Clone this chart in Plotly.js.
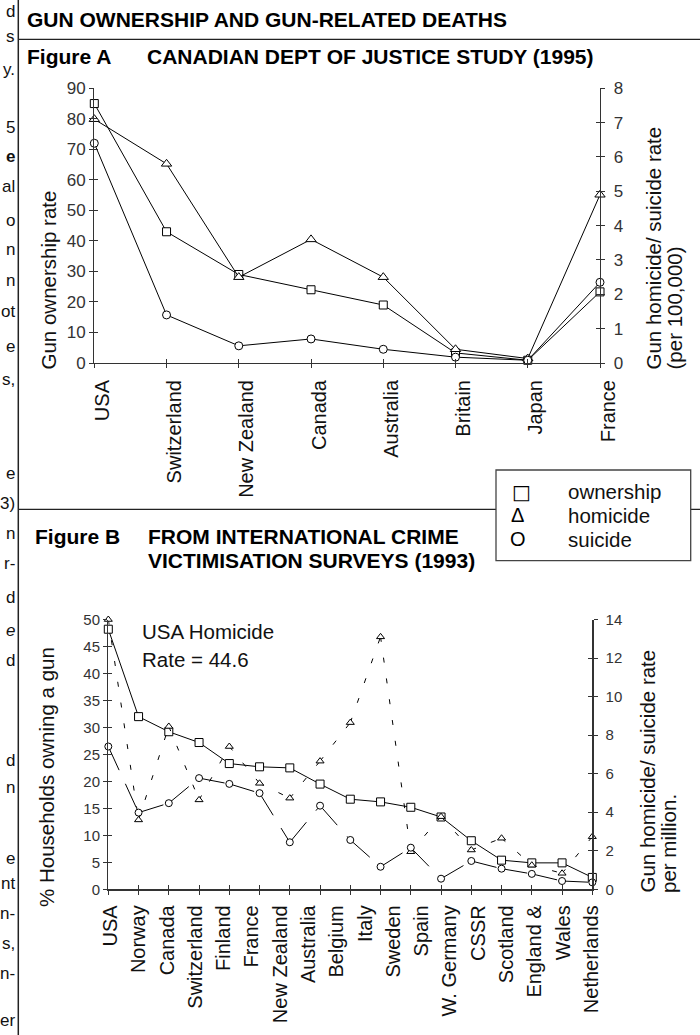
<!DOCTYPE html>
<html>
<head>
<meta charset="utf-8">
<script src="https://cdn.plot.ly/plotly-3.0.1.min.js"></script>
<style>html,body{margin:0;padding:0;background:#fff}#chart{width:700px;height:1035px}</style>
</head>
<body>
<div id="chart"></div>
<script>
// ---------- Figure A data (Canadian Dept of Justice study, 1995) ----------
const countriesA = ['USA','Switzerland','New Zealand','Canada','Australia','Britain','Japan','France'];
const ownershipA = [85, 43, 29, 24, 19, 3.3, 0.9, 23.3];          // gun ownership rate (left axis)
const homicideA  = [7.1, 5.8, 2.5, 3.6, 2.5, 0.4, 0.13, 4.9];      // per 100,000 (right axis)
const suicideA   = [6.4, 1.4, 0.5, 0.7, 0.4, 0.17, 0.08, 2.35];    // per 100,000 (right axis)

// ---------- Figure B data (International Crime Victimisation Surveys, 1993) ----------
const countriesB = ['USA','Norway','Canada','Switzerland','Finland','France','New Zealand','Australia',
  'Belgium','Italy','Sweden','Spain','W. Germany','CSSR','Scotland','England & Wales','Netherlands'];
const tickLabelsB = ['USA','Norway','Canada','Switzerland','Finland','France','New Zealand','Australia',
  'Belgium','Italy','Sweden','Spain','W. Germany','CSSR','Scotland','England &','Wales','Netherlands'];
const ownershipB = [48.2, 32, 29.2, 27.2, 23.3, 22.7, 22.5, 19.5, 16.7, 16.2, 15.2, 13.4, 9.0, 5.4, 4.9, 4.9, 2.2];
const homicideB  = [14, 3.6, 8.45, 4.64, 7.41, 5.5, 4.73, 6.65, 8.65, 13.1, 1.95, 3.77, 2.04, 2.65, 1.25, 0.83, 2.73];
const suicideB   = [7.41, 3.98, 4.47, 5.77, 5.47, 4.99, 2.44, 4.34, 2.56, 1.17, 2.16, 0.55, 1.47, 1.07, 0.8, 0.43, 0.36];

// Legend and note texts
const legendItems = [['□','ownership'],['Δ','homicide'],['O','suicide']];
const usaNote = ['USA Homicide','Rate = 44.6'];

// Cut-off text of the neighbouring page column (left margin)
const marginFragments = [
  ['d',11],['s',36],['y.',70],['5',127],['<b>e</b>',157],['al',187],['o',220],['n',250],['n',280],
  ['ot',311],['e',346],['s,',379],['e',473],['3)',503],['n',533],['r-',563],['d',597],['<i>e</i>',630],
  ['d',660],['d',760],['n',787],['e',858],['nt',883],['n-',913],['s,',943],['n-',973],['er',1020]
];

// ---------- helpers ----------
const W = 700, H = 1035;
const X = p => p / W;
const Y = p => 1 - p / H;
const FONT = 'Liberation Sans, Arial, sans-serif';
const AX = '#333';
const idxA = countriesA.map((_, i) => i);
const idxB = countriesB.map((_, i) => i);
const idxLB = tickLabelsB.map((_, i) => i);

const traces = [];
const hidden = (xa, ya, xs, ys) => ({x: xs, y: ys, xaxis: xa, yaxis: ya, mode: 'markers',
  marker: {opacity: 0}, hoverinfo: 'skip', showlegend: false});

function lineTrace(xs, ys, xa, ya, dash) {
  return {x: xs, y: ys, xaxis: xa, yaxis: ya, mode: 'lines', cliponaxis: false,
    line: {color: '#000', width: 1, dash: dash || 'solid'}, hoverinfo: 'skip', showlegend: false};
}
function markerTrace(xs, ys, xa, ya, sym, size) {
  return {x: xs, y: ys, xaxis: xa, yaxis: ya, mode: 'markers', cliponaxis: false,
    marker: {symbol: sym, size: size, color: '#fff', line: {color: '#000', width: 1}}, showlegend: false};
}
// Figure A – lines first, then markers
traces.push(lineTrace(idxA, ownershipA, 'x', 'y'));
traces.push(markerTrace(idxA, ownershipA, 'x', 'y', 'square', 8));
traces.push(lineTrace(idxA, homicideA, 'x', 'y3'));
traces.push(lineTrace(idxA, suicideA, 'x', 'y3'));
traces.push(markerTrace(idxA, homicideA, 'x', 'y3', 'triangle-up', 9));
traces.push(markerTrace(idxA, suicideA, 'x', 'y3', 'circle', 8));
traces.push(hidden('x2', 'y', idxA, ownershipA));
traces.push(hidden('x', 'y2', idxA, ownershipA));
traces.push(hidden('x', 'y4', idxA, homicideA));
traces.push(hidden('x3', 'y', idxA, ownershipA));

// Figure B – dashed series drawn segment by segment (pattern restarts at each point)
traces.push(lineTrace(idxB, ownershipB, 'x4', 'y5'));
for (let i = 0; i < idxB.length - 1; i++) {
  traces.push(lineTrace([idxB[i], idxB[i+1]], [homicideB[i], homicideB[i+1]], 'x4', 'y7', '5px,16px'));
  traces.push(lineTrace([idxB[i], idxB[i+1]], [suicideB[i], suicideB[i+1]], 'x4', 'y7', '26px,15px'));
}
traces.push(markerTrace(idxB, ownershipB, 'x4', 'y5', 'square', 8));
traces.push(markerTrace(idxB, homicideB, 'x4', 'y7', 'triangle-up', 7));
traces.push(markerTrace(idxB, suicideB, 'x4', 'y7', 'circle', 7));
traces.push(hidden('x5', 'y5', idxB, ownershipB));
traces.push(hidden('x4', 'y6', idxB, ownershipB));
traces.push(hidden('x4', 'y8', idxB, homicideB));
traces.push(hidden('x6', 'y5', idxB, ownershipB));

const base = {showgrid: false, zeroline: false, fixedrange: true, tickcolor: AX, tickwidth: 1};
const lineAx = {showline: true, linecolor: AX, linewidth: 1.3};

const layout = {
  width: W, height: H, margin: {l: 0, r: 0, t: 0, b: 0},
  paper_bgcolor: '#fff', plot_bgcolor: 'rgba(0,0,0,0)', showlegend: false,
  font: {family: FONT, color: '#000'},
  // ----- Figure A axes -----
  xaxis: {...base, ...lineAx, domain: [X(94.3), X(600)], range: [0, 7], tickvals: idxA,
    ticks: 'outside', ticklen: 4, showticklabels: false, anchor: 'y'},
  xaxis2: {...base, overlaying: 'x', range: [0, 7], tickvals: idxA, ticks: 'inside', ticklen: 4,
    showticklabels: false, showline: false, anchor: 'y'},
  xaxis3: {...base, domain: [X(102.5), X(608.2)], range: [0, 7], tickvals: idxA, ticktext: countriesA,
    ticks: '', tickangle: -90, showline: false, anchor: 'y', ticklabelstandoff: 12,
    tickfont: {family: FONT, size: 20, color: '#111'}},
  yaxis: {...base, ...lineAx, domain: [Y(363), Y(88.3)], range: [0, 90], tick0: 0, dtick: 10,
    ticks: 'outside', ticklen: 4, anchor: 'x', tickfont: {family: FONT, size: 17, color: '#333'}},
  yaxis2: {...base, overlaying: 'y', range: [0, 90], tick0: 0, dtick: 10, ticks: 'inside', ticklen: 4,
    showticklabels: false, anchor: 'x'},
  yaxis3: {...base, ...lineAx, overlaying: 'y', side: 'right', range: [0, 8], tick0: 0, dtick: 1,
    ticks: 'outside', ticklen: 4, anchor: 'x', ticklabelstandoff: 5,
    tickfont: {family: FONT, size: 17, color: '#333'}},
  yaxis4: {...base, overlaying: 'y', side: 'right', range: [0, 8], tick0: 0, dtick: 1, ticks: 'inside',
    ticklen: 4, showticklabels: false, anchor: 'x'},
  // ----- Figure B axes -----
  xaxis4: {...base, ...lineAx, domain: [X(108.3), X(592.3)], range: [0, 16], tickvals: idxB,
    ticks: 'outside', ticklen: 4, showticklabels: false, anchor: 'y5'},
  xaxis5: {...base, overlaying: 'x4', range: [0, 16], tickvals: idxB, ticks: 'inside', ticklen: 4,
    showticklabels: false, showline: false, anchor: 'y5'},
  xaxis6: {...base, domain: [X(110.5), X(591.3)], range: [0, 17], tickvals: idxLB, ticktext: tickLabelsB,
    ticks: '', tickangle: -90, showline: false, anchor: 'y5', ticklabelstandoff: 11,
    tickfont: {family: FONT, size: 20, color: '#111'}},
  yaxis5: {...base, ...lineAx, domain: [Y(889.3), Y(619.5)], range: [0, 50], tick0: 0, dtick: 5,
    ticks: 'outside', ticklen: 4, anchor: 'x4', tickfont: {family: FONT, size: 15, color: '#333'}},
  yaxis6: {...base, overlaying: 'y5', range: [0, 50], tick0: 0, dtick: 5, ticks: 'inside', ticklen: 4,
    showticklabels: false, anchor: 'x4'},
  yaxis7: {...base, ...lineAx, overlaying: 'y5', side: 'right', range: [0, 14], tick0: 0, dtick: 2,
    ticks: 'outside', ticklen: 4, anchor: 'x4', ticklabelstandoff: 5,
    tickfont: {family: FONT, size: 15, color: '#333'}},
  yaxis8: {...base, overlaying: 'y5', side: 'right', range: [0, 14], tick0: 0, dtick: 2, ticks: 'inside',
    ticklen: 4, showticklabels: false, anchor: 'x4'},
  shapes: [
    {type: 'line', xref: 'paper', yref: 'paper', x0: X(18.3), x1: X(18.3), y0: Y(0), y1: Y(1035), line: {color: '#222', width: 1.5}},
    {type: 'line', xref: 'paper', yref: 'paper', x0: X(18.3), x1: X(700), y0: Y(39.3), y1: Y(39.3), line: {color: '#222', width: 1.3}},
    {type: 'line', xref: 'paper', yref: 'paper', x0: X(18.3), x1: X(700), y0: Y(509.3), y1: Y(509.3), line: {color: '#222', width: 1.3}},
    {type: 'rect', xref: 'paper', yref: 'paper', x0: X(496), x1: X(690.7), y0: Y(560.7), y1: Y(470), fillcolor: '#fff', line: {color: '#444', width: 1.3}}
  ],
  annotations: []
};

const ann = (text, xp, yp, opts) => Object.assign({text: text, x: X(xp), y: Y(yp), xref: 'paper', yref: 'paper',
  showarrow: false, xanchor: 'left', yanchor: 'middle', borderpad: 0, borderwidth: 0,
  font: {family: FONT, size: 20, color: '#000'}}, opts || {});
const TF = {family: FONT, size: 21, color: '#000'};

// Headings
layout.annotations.push(ann('<b>GUN OWNERSHIP AND GUN-RELATED DEATHS</b>', 27, 20, {font: TF}));
layout.annotations.push(ann('<b>Figure A</b>', 27, 56.7, {font: TF}));
layout.annotations.push(ann('<b>CANADIAN DEPT OF JUSTICE STUDY (1995)</b>', 146.7, 56.7, {font: TF}));
layout.annotations.push(ann('<b>Figure B</b>', 35, 536, {font: TF}));
layout.annotations.push(ann('<b>FROM INTERNATIONAL CRIME</b>', 148, 536, {font: TF}));
layout.annotations.push(ann('<b>VICTIMISATION SURVEYS (1993)</b>', 148, 560, {font: TF}));

// Axis titles (rotated)
const rot = (text, xc, ybottom, size) => ann(text, xc, ybottom, {textangle: -90, xanchor: 'center', yanchor: 'bottom',
  font: {family: FONT, size: size, color: '#111'}});
layout.annotations.push(rot('Gun ownership rate', 48, 370, 20.5));
layout.annotations.push(rot('Gun homicide/ suicide rate', 653, 370, 20.5));
layout.annotations.push(rot('(per 100,000)', 674, 370, 20.5));
layout.annotations.push(rot('% Households owning a gun', 46, 907, 20.5));
layout.annotations.push(rot('Gun homicide/ suicide rate', 647, 893, 20.5));
layout.annotations.push(rot('per million.', 668.5, 893, 20.5));

// USA note
layout.annotations.push(ann(usaNote[0], 141.7, 631.7, {font: {family: FONT, size: 20.5, color: '#111'}}));
layout.annotations.push(ann(usaNote[1], 141.7, 659.3, {font: {family: FONT, size: 20.5, color: '#111'}}));

// Legend (text style, as in the original)
const legendY = [491.7, 515, 539.3];
const legendSymX = [521.7, 517.7, 518.3];
legendItems.forEach((it, i) => {
  layout.annotations.push(ann(i === 0 ? '<b>' + it[0] + '</b>' : it[0], legendSymX[i], legendY[i], {xanchor: 'center',
    font: {family: i === 0 ? 'DejaVu Sans' : FONT, size: i === 0 ? 20 : 20, color: '#000'}}));
  layout.annotations.push(ann(it[1], 568.3, legendY[i], {font: {family: FONT, size: 20.5, color: '#111'}}));
});

// Margin fragments from the neighbouring text column
marginFragments.forEach(f => {
  layout.annotations.push(ann(f[0], 15, f[1], {xanchor: 'right', font: {family: FONT, size: 17, color: '#111'}}));
});

Plotly.newPlot('chart', traces, layout, {staticPlot: true, displayModeBar: false});
</script>
</body>
</html>
